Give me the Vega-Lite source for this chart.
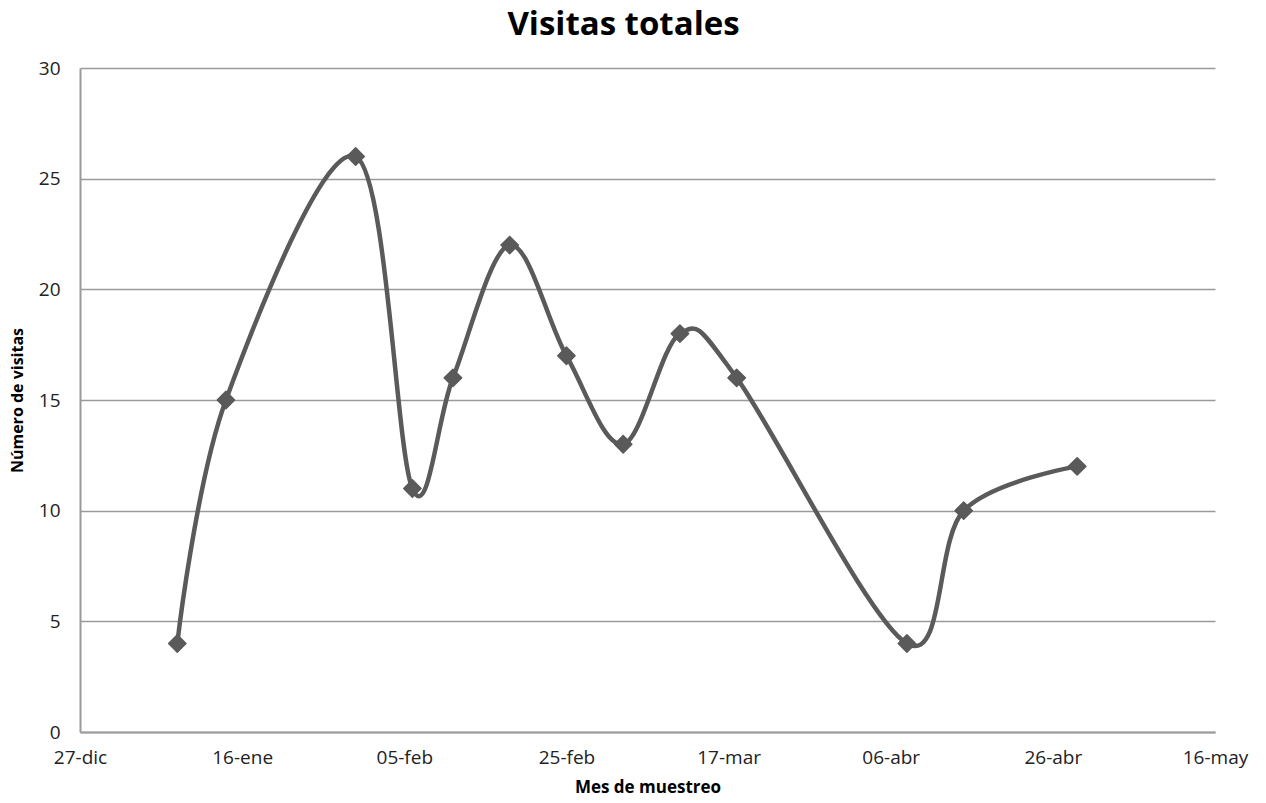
{
  "$schema": "https://vega.github.io/schema/vega-lite/v6.json",
  "autosize": "none",
  "padding": {"left": 80, "top": 68, "right": 51, "bottom": 71},
  "width": 1135,
  "height": 664,
  "background": "white",
  "title": {
    "text": "Visitas totales",
    "font": "Open Sans",
    "fontSize": 33,
    "fontWeight": "bold",
    "color": "#000000",
    "anchor": "middle",
    "frame": "group",
    "dx": -24,
    "offset": 17
  },
  "data": {
    "values": [
      {"fecha": "2014-01-08", "visitas": 4},
      {"fecha": "2014-01-14", "visitas": 15},
      {"fecha": "2014-01-30", "visitas": 26},
      {"fecha": "2014-02-06", "visitas": 11},
      {"fecha": "2014-02-11", "visitas": 16},
      {"fecha": "2014-02-18", "visitas": 22},
      {"fecha": "2014-02-25", "visitas": 17},
      {"fecha": "2014-03-04", "visitas": 13},
      {"fecha": "2014-03-11", "visitas": 18},
      {"fecha": "2014-03-18", "visitas": 16},
      {"fecha": "2014-04-08", "visitas": 4},
      {"fecha": "2014-04-15", "visitas": 10},
      {"fecha": "2014-04-29", "visitas": 12}
    ]
  },
  "encoding": {
    "x": {
      "field": "fecha",
      "type": "temporal",
      "scale": {
        "type": "utc",
        "domain": [
          {"year": 2013, "month": 12, "date": 27, "utc": true},
          {"year": 2014, "month": 5, "date": 16, "utc": true}
        ]
      },
      "axis": {
        "title": "Mes de muestreo",
        "titleFont": "Open Sans",
        "titleFontSize": 17,
        "titleFontWeight": "bold",
        "titleColor": "#000000",
        "titlePadding": 12,
        "values": [
          {"year": 2013, "month": 12, "date": 27, "utc": true},
          {"year": 2014, "month": 1, "date": 16, "utc": true},
          {"year": 2014, "month": 2, "date": 5, "utc": true},
          {"year": 2014, "month": 2, "date": 25, "utc": true},
          {"year": 2014, "month": 3, "date": 17, "utc": true},
          {"year": 2014, "month": 4, "date": 6, "utc": true},
          {"year": 2014, "month": 4, "date": 26, "utc": true},
          {"year": 2014, "month": 5, "date": 16, "utc": true}
        ],
        "labelExpr": "utcFormat(datum.value, '%d') + '-' + ['ene','feb','mar','abr','may','jun','jul','ago','sep','oct','nov','dic'][utcmonth(datum.value)]",
        "labelFont": "Open Sans",
        "labelFontSize": 19,
        "labelColor": "#222222",
        "labelPadding": 16,
        "labelOverlap": false,
        "labelFlush": false,
        "ticks": false,
        "grid": false,
        "domainColor": "#9a9a9a",
        "domainWidth": 2
      }
    },
    "y": {
      "field": "visitas",
      "type": "quantitative",
      "scale": {"domain": [0, 30], "nice": false},
      "axis": {
        "title": "Número de visitas",
        "titleFont": "Open Sans",
        "titleFontSize": 16,
        "titleFontWeight": "bold",
        "titleColor": "#000000",
        "titlePadding": 13,
        "values": [0, 5, 10, 15, 20, 25, 30],
        "labelFont": "Open Sans",
        "labelFontSize": 19,
        "labelColor": "#222222",
        "labelPadding": 20,
        "ticks": false,
        "grid": true,
        "gridColor": "#9a9a9a",
        "gridWidth": 1.5,
        "domainColor": "#9a9a9a",
        "domainWidth": 2
      }
    }
  },
  "layer": [
    {
      "mark": {
        "type": "line",
        "interpolate": "cardinal",
        "color": "#5a5a5a",
        "strokeWidth": 4.5
      }
    },
    {
      "mark": {
        "type": "point",
        "shape": "diamond",
        "filled": true,
        "size": 300,
        "color": "#5a5a5a",
        "opacity": 1,
        "stroke": "#5a5a5a",
        "strokeWidth": 1.5,
        "strokeJoin": "round"
      }
    }
  ],
  "config": {
    "view": {"stroke": null}
  }
}
